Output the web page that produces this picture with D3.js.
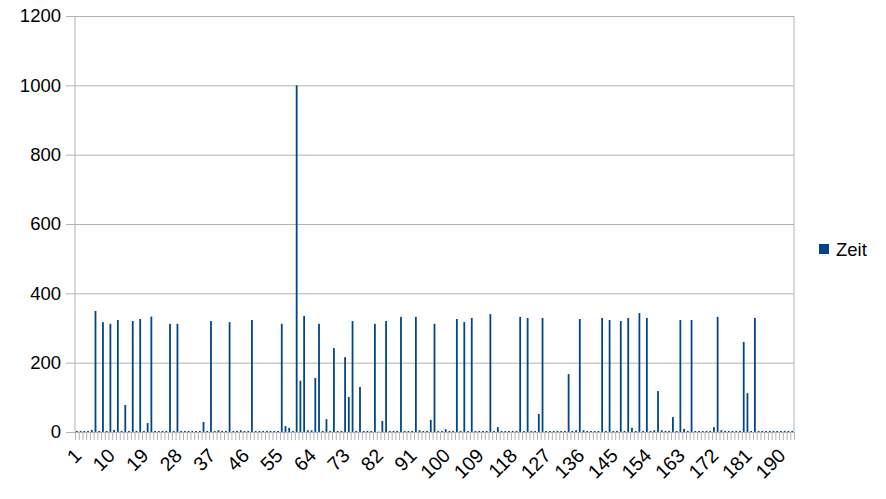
<!DOCTYPE html>
<html>
<head>
<meta charset="utf-8">
<script src="https://cdn.jsdelivr.net/npm/d3@7"></script>
<style>
  body { margin: 0; background: #fff; }
  text { font-family: "Liberation Sans", Arial, sans-serif; }
</style>
</head>
<body>
<div id="chart"></div>
<script>
// Categories 1..193 (x axis)
const categories = d3.range(1, 194);

// Values of the "Zeit" series, one per category
const zeit = [
    3, 3, 3, 3, 6, 349, 3, 317, 3, 312,          // 1-10
    6, 323, 3, 78, 3, 320, 3, 326, 3, 26,        // 11-20
    333, 3, 3, 3, 3, 312, 3, 312, 3, 3,          // 21-30
    3, 3, 3, 3, 29, 3, 320, 3, 5, 3,             // 31-40
    3, 317, 3, 3, 5, 3, 3, 323, 3, 3,            // 41-50
    3, 3, 3, 3, 3, 312, 17, 12, 3, 1000,         // 51-60
    148, 335, 5, 5, 156, 312, 3, 37, 3, 242,     // 61-70
    3, 3, 216, 101, 320, 3, 130, 3, 3, 3,        // 71-80
    312, 1, 32, 320, 3, 3, 3, 332, 3, 3,         // 81-90
    3, 332, 5, 3, 3, 35, 312, 3, 3, 8,           // 91-100
    3, 3, 326, 3, 317, 3, 329, 3, 3, 3,          // 101-110
    3, 340, 3, 14, 3, 3, 3, 3, 3, 332,           // 111-120
    3, 329, 3, 3, 52, 329, 3, 3, 3, 3,           // 121-130
    3, 3, 167, 3, 5, 326, 5, 3, 3, 3,            // 131-140
    3, 329, 3, 323, 3, 3, 320, 3, 329, 12,       // 141-150
    3, 343, 3, 329, 3, 5, 118, 5, 3, 3,          // 151-160
    43, 3, 323, 9, 3, 323, 3, 3, 3, 3,           // 161-170
    3, 14, 332, 5, 3, 3, 3, 3, 3, 260,           // 171-180
    112, 3, 329, 3, 3, 3, 3, 3, 3, 3,            // 181-190
    3, 3, 3                                      // 191-193
];

// Axis ticks
const yTicks = [0, 200, 400, 600, 800, 1000, 1200];
const xLabels = d3.range(1, 194, 9);

const seriesName = "Zeit";
const barColor = "#004586";
const gridColor = "#b3b3b3";

const W = 886, H = 499;
const plot = { left: 75, right: 794, top: 16, bottom: 432 };
const fontSize = "18.5px";

const svg = d3.select("#chart")
    .append("svg")
    .attr("width", W)
    .attr("height", H);

const x = d3.scaleBand()
    .domain(categories)
    .range([plot.left, plot.right])
    .paddingInner(0.52)
    .paddingOuter(0.26);

// slot boundaries for the small tick marks under the axis
const xEdge = d3.scaleLinear()
    .domain([0, categories.length])
    .range([plot.left, plot.right]);

const y = d3.scaleLinear()
    .domain([0, 1200])
    .range([plot.bottom, plot.top]);

// Horizontal grid lines + short ticks to the left
const yAxis = svg.append("g")
    .attr("transform", `translate(${plot.left},0)`)
    .call(d3.axisLeft(y).tickValues(yTicks).tickSize(9).tickPadding(5).tickFormat(d3.format("d")));
yAxis.select(".domain").remove();
yAxis.selectAll(".tick line").attr("stroke", gridColor);
yAxis.selectAll(".tick text")
    .attr("fill", "#000")
    .style("font-size", fontSize);

const grid = svg.append("g")
    .attr("transform", `translate(${plot.left},0)`)
    .call(d3.axisLeft(y).tickValues(yTicks).tickSize(-(plot.right - plot.left)).tickFormat(""));
grid.select(".domain").remove();
grid.selectAll(".tick line").attr("stroke", gridColor);

// Left and right frame lines
svg.append("line")
    .attr("x1", plot.left).attr("x2", plot.left)
    .attr("y1", plot.top).attr("y2", plot.bottom)
    .attr("stroke", gridColor);
svg.append("line")
    .attr("x1", plot.right).attr("x2", plot.right)
    .attr("y1", plot.top).attr("y2", plot.bottom)
    .attr("stroke", gridColor);

// Bars
svg.selectAll(".bar")
    .data(categories)
    .enter()
    .append("rect")
    .attr("class", "bar")
    .attr("x", d => x(d))
    .attr("y", (d, i) => y(zeit[i]))
    .attr("width", x.bandwidth())
    .attr("height", (d, i) => y(0) - y(zeit[i]))
    .attr("fill", barColor);

// X axis with a tick mark at every slot boundary
const xTickAxis = svg.append("g")
    .attr("transform", `translate(0,${plot.bottom})`)
    .call(d3.axisBottom(xEdge).tickValues(d3.range(categories.length + 1)).tickSize(8).tickFormat(""));
xTickAxis.select(".domain").attr("stroke", gridColor);
xTickAxis.selectAll(".tick line").attr("stroke", gridColor);

// Rotated category labels
const xLabelAxis = svg.append("g")
    .attr("transform", `translate(0,${plot.bottom})`)
    .call(d3.axisBottom(x).tickValues(xLabels).tickSize(0).tickPadding(0));
xLabelAxis.select(".domain").remove();
xLabelAxis.selectAll(".tick text")
    .attr("fill", "#000")
    .style("font-size", "19.5px")
    .attr("text-anchor", "end")
    .attr("y", 0)
    .attr("dy", "0.71em")
    .attr("transform", "translate(-4,15) rotate(-45)");

// Legend
const legend = svg.append("g").attr("transform", "translate(819,244)");
legend.append("rect")
    .attr("width", 10).attr("height", 10)
    .attr("fill", barColor);
legend.append("text")
    .attr("x", 17).attr("y", 11.5)
    .style("font-size", fontSize)
    .attr("fill", "#000")
    .text(seriesName);
</script>
</body>
</html>
